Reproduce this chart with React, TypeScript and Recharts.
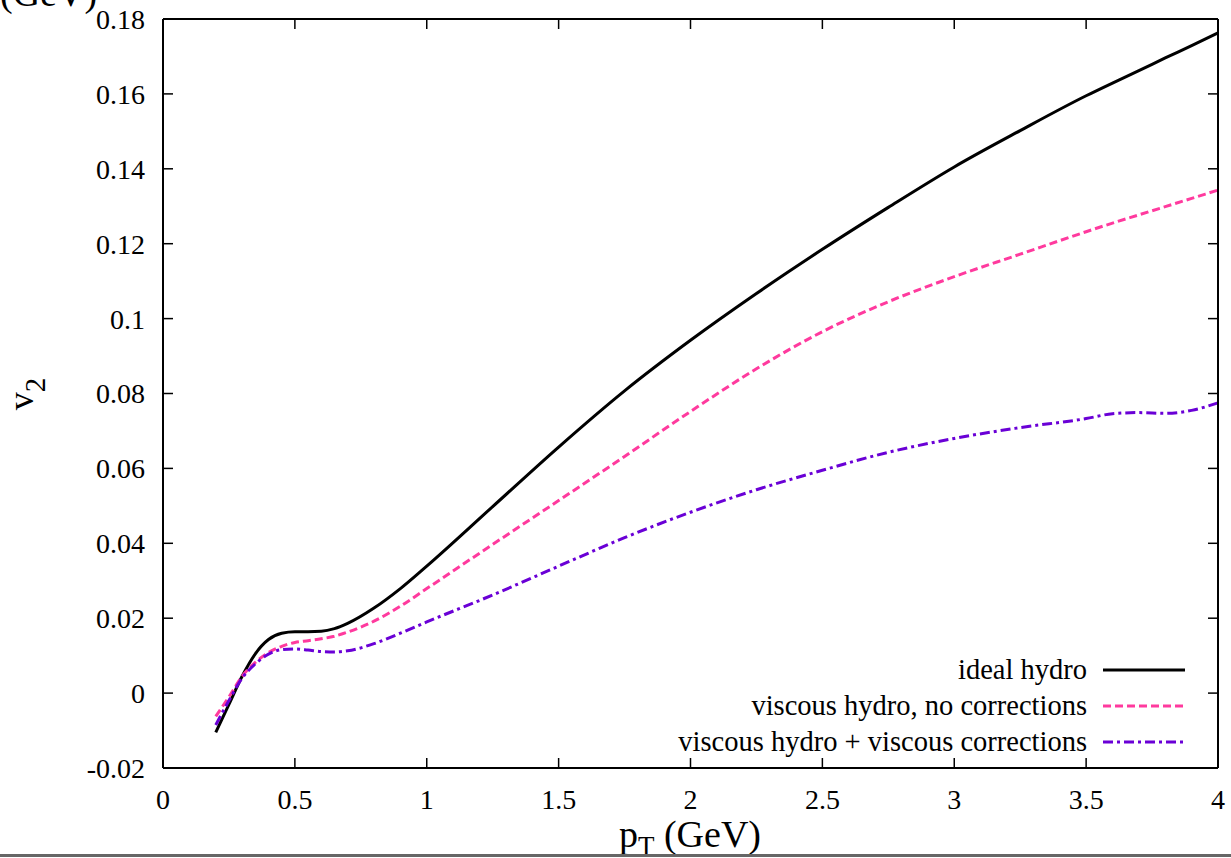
import React from 'react';
import { LineChart, Line, XAxis, YAxis, Legend } from 'recharts';

const FONT = '"Liberation Serif", "Times New Roman", Times, serif';

// p_T (GeV) sample points
const PT = [0.2, 0.25, 0.3, 0.35, 0.4, 0.45, 0.5, 0.55, 0.6, 0.65, 0.7, 0.8, 0.9, 1.0, 1.25, 1.5, 1.75, 2.0, 2.25, 2.5, 2.75, 3.0, 3.25, 3.5, 3.6, 3.7, 3.8, 3.9, 4.0];

// v2 for each curve
const IDEAL = [-0.0105, -0.003, 0.0045, 0.0105, 0.0143, 0.016, 0.0164, 0.0164, 0.0165, 0.0172, 0.0186, 0.0227, 0.0279, 0.0339, 0.0498, 0.0657, 0.0807, 0.0942, 0.1067, 0.1185, 0.1297, 0.1405, 0.1502, 0.1595, 0.1629, 0.1662, 0.1696, 0.1729, 0.1763];
const VISC_NO_CORR = [-0.0062, -0.001, 0.0045, 0.0082, 0.0108, 0.0125, 0.0135, 0.014, 0.0145, 0.0152, 0.0163, 0.0192, 0.0232, 0.0279, 0.0397, 0.0514, 0.0632, 0.0752, 0.0866, 0.0965, 0.1045, 0.1112, 0.1172, 0.1232, 0.1255, 0.1277, 0.1299, 0.1321, 0.1343];
const VISC_CORR = [-0.0085, -0.002, 0.004, 0.0078, 0.0104, 0.0116, 0.0118, 0.0115, 0.0111, 0.011, 0.0113, 0.0132, 0.016, 0.019, 0.0262, 0.0339, 0.0415, 0.0483, 0.0543, 0.0595, 0.0643, 0.068, 0.0709, 0.0733, 0.0746, 0.0749, 0.0747, 0.0755, 0.0775];

const X_TICKS = [0, 0.5, 1, 1.5, 2, 2.5, 3, 3.5, 4];
const Y_TICKS = [-0.02, 0, 0.02, 0.04, 0.06, 0.08, 0.1, 0.12, 0.14, 0.16, 0.18];

const SERIES = [
  { key: 'ideal', name: 'ideal hydro', color: '#000000', dash: undefined as string | undefined, width: 3 },
  { key: 'noCorr', name: 'viscous hydro, no corrections', color: '#ff3a9e', dash: '8 4', width: 3 },
  { key: 'corr', name: 'viscous hydro + viscous corrections', color: '#6a00d6', dash: '10 4 3 4', width: 3 },
];

const data = PT.map((pt, i) => ({
  pt,
  ideal: IDEAL[i],
  noCorr: VISC_NO_CORR[i],
  corr: VISC_CORR[i],
}));

const tickStyle = { fill: '#000', fontSize: 28, fontFamily: FONT };
const axisLineStyle = { stroke: '#000', strokeWidth: 2 };
const tickLineStyle = { stroke: '#000', strokeWidth: 1.5 };

const renderLegend = () => (
  <div style={{ fontFamily: FONT, fontSize: 28.5, color: '#000' }}>
    {SERIES.map(s => (
      <div key={s.key} style={{ display: 'flex', justifyContent: 'flex-end', alignItems: 'center', height: 36 }}>
        <span style={{ marginRight: 16, whiteSpace: 'nowrap' }}>{s.name}</span>
        <svg width={82} height={10}>
          <line x1={0} y1={5} x2={82} y2={5} stroke={s.color} strokeWidth={s.width} strokeDasharray={s.dash} />
        </svg>
      </div>
    ))}
  </div>
);

export default function App() {
  return (
    <div style={{ position: 'absolute', left: 0, top: 0, width: 1231, height: 858, background: '#fff', overflow: 'hidden' }}>
      {/* clipped label from the panel above */}
      <div style={{ position: 'absolute', left: 0, top: -26, fontFamily: FONT, fontSize: 38, lineHeight: 1 }}>(GeV)</div>
      <LineChart width={1231} height={858} data={data} margin={{ top: 18, right: 12, left: 0, bottom: 0 }}>
        <XAxis
          dataKey="pt" type="number" domain={[0, 4]} ticks={X_TICKS} height={90}
          axisLine={axisLineStyle} tickLine={tickLineStyle} tickSize={-10} tickMargin={31}
          tick={tickStyle} tickFormatter={(v: number) => String(v)}
        />
        <XAxis
          xAxisId="top" orientation="top" dataKey="pt" type="number" domain={[0, 4]} ticks={X_TICKS} height={1}
          axisLine={axisLineStyle} tickLine={tickLineStyle} tickSize={-10} tickFormatter={() => ''}
        />
        <YAxis
          type="number" domain={[-0.02, 0.18]} ticks={Y_TICKS} width={163}
          axisLine={axisLineStyle} tickLine={tickLineStyle} tickSize={-10} tickMargin={28}
          tick={tickStyle} tickFormatter={(v: number) => String(v)}
        />
        <YAxis
          yAxisId="right" orientation="right" type="number" domain={[-0.02, 0.18]} ticks={Y_TICKS} width={1}
          axisLine={axisLineStyle} tickLine={tickLineStyle} tickSize={-10} tickFormatter={() => ''}
        />
        <Legend
          layout="horizontal" verticalAlign="middle" align="center"
          wrapperStyle={{ left: 665, top: 652, width: 520 }}
          content={renderLegend}
        />
        {/* invisible copy so the mirrored top/right axes get a scale */}
        <Line
          xAxisId="top" yAxisId="right" dataKey="ideal" stroke="none" legendType="none"
          dot={false} activeDot={false} isAnimationActive={false}
        />
        {SERIES.map(s => (
          <Line
            key={s.key} type="monotone" dataKey={s.key} name={s.name}
            stroke={s.color} strokeWidth={s.width} strokeDasharray={s.dash}
            dot={false} activeDot={false} isAnimationActive={false}
          />
        ))}
        <text x={690} y={847} textAnchor="middle" fontFamily={FONT} fontSize={38} fill="#000">
          <tspan>p</tspan>
          <tspan fontSize={27} dy={8}>T</tspan>
          <tspan dy={-8}> (GeV)</tspan>
        </text>
        <text transform="translate(33,394) rotate(-90)" textAnchor="middle" fontFamily={FONT} fontSize={36} fill="#000">
          <tspan>v</tspan>
          <tspan fontSize={29} dy={12}>2</tspan>
        </text>
      </LineChart>
      <div style={{ position: 'absolute', left: 0, top: 854, width: 1231, height: 3, background: '#666' }} />
    </div>
  );
}
